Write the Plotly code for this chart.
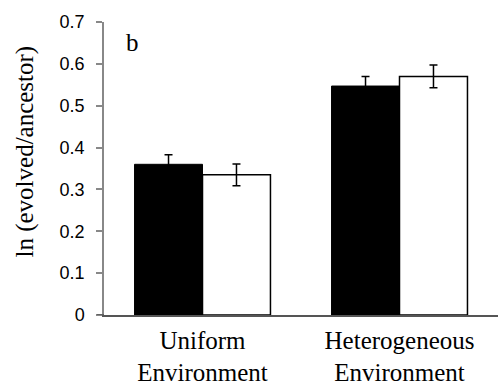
import plotly.graph_objects as go

categories = ["Uniform<br>Environment", "Heterogeneous<br>Environment"]
filled_values = [0.360, 0.547]
filled_errors = [0.023, 0.023]
open_values = [0.335, 0.570]
open_errors = [0.026, 0.027]
y_ticks = [0, 0.1, 0.2, 0.3, 0.4, 0.5, 0.6, 0.7]
y_tick_text = ["0", "0.1", "0.2", "0.3", "0.4", "0.5", "0.6", "0.7"]
y_title = "ln (evolved/ancestor)"
panel_label = "b"

SERIF = "Liberation Serif, Times New Roman, serif"
SANS = "Liberation Sans, Arial, sans-serif"

err_style = dict(type="data", visible=True, color="black", thickness=1.5, width=4)

fig = go.Figure()
fig.add_trace(go.Bar(
    x=categories, y=filled_values,
    error_y=dict(array=filled_errors, **err_style),
    marker=dict(color="black", line=dict(color="black", width=1)),
    showlegend=False,
))
fig.add_trace(go.Bar(
    x=categories, y=open_values,
    error_y=dict(array=open_errors, **err_style),
    marker=dict(color="white", line=dict(color="black", width=1.5)),
    showlegend=False,
))

fig.update_layout(
    width=499, height=389,
    margin=dict(l=104, r=1, t=22, b=74),
    paper_bgcolor="white", plot_bgcolor="white",
    font=dict(family=SERIF, color="black"),
    barmode="group", bargap=0.31, bargroupgap=0,
    xaxis=dict(
        showline=True, linecolor="#555555", linewidth=1.5,
        ticks="", showgrid=False, range=[-0.5, 1.5],
        ticklabelstandoff=2,
        tickfont=dict(family=SERIF, size=25, color="black"),
    ),
    yaxis=dict(
        range=[0, 0.7], tickvals=y_ticks, ticktext=y_tick_text,
        showline=True, linecolor="#888888", linewidth=1.5,
        ticks="outside", ticklen=6, tickcolor="#888888", tickwidth=1.5,
        showgrid=False, zeroline=False, ticklabelstandoff=8,
        tickfont=dict(family=SANS, size=18, color="black"),
    ),
    shapes=[dict(
        type="line", xref="paper", yref="y", x0=-0.018, x1=0, y0=0, y1=0,
        line=dict(color="#555555", width=1.5),
    )],
    annotations=[
        dict(
            text=y_title, xref="paper", yref="paper", x=-0.203, y=0.558,
            xanchor="center", yanchor="middle", textangle=-90, showarrow=False,
            font=dict(family=SERIF, size=25, color="black"),
        ),
        dict(
            text=panel_label, xref="paper", yref="paper", x=0.05, y=0.93,
            xanchor="left", yanchor="middle", showarrow=False,
            font=dict(family=SERIF, size=25, color="black"),
        ),
    ],
)

fig.write_html("out.html")
